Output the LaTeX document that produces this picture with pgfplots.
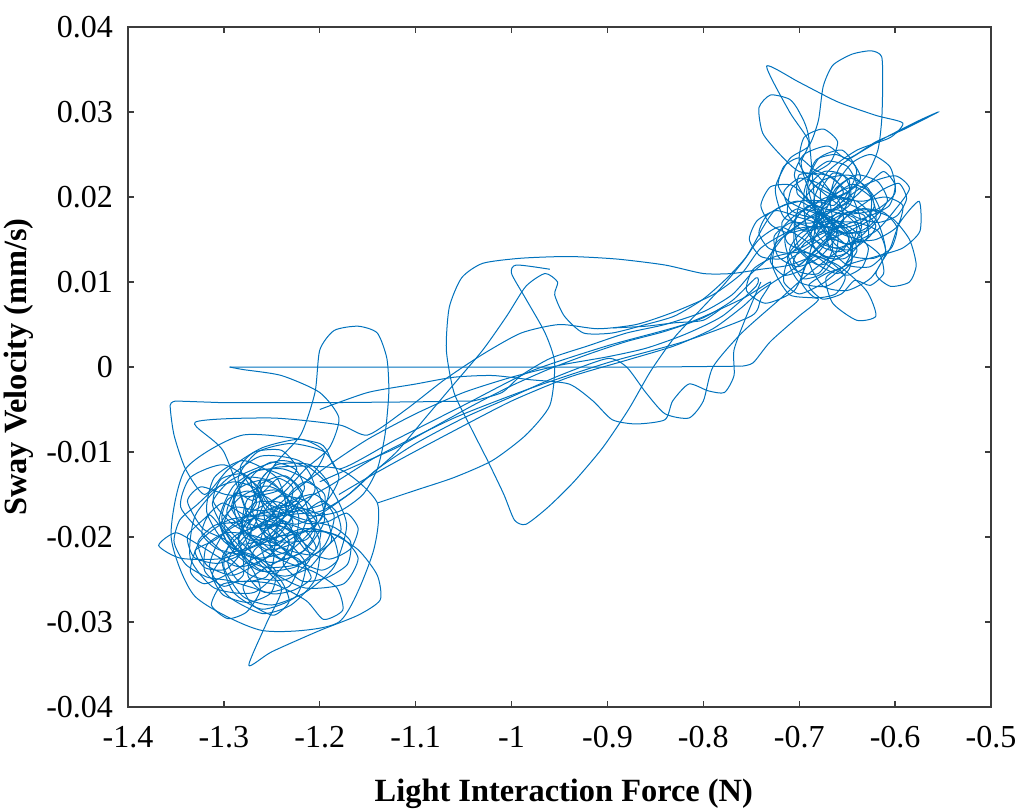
\documentclass[border=0pt]{standalone}
\usepackage{pgfplots}
\pgfplotsset{compat=1.18}
\usepackage{fontspec}
\setmainfont{Liberation Serif}
\definecolor{mblue}{RGB}{0,114,189}
\definecolor{axgray}{RGB}{60,60,60}
\pgfplotsset{trace/.style={mblue, line width=0.5pt, smooth, tension=0.4, no marks}}

\begin{document}
\begin{tikzpicture}
\begin{axis}[
    scale only axis,
    width=431.5pt, height=340pt,
    xmin=-1.4, xmax=-0.5, ymin=-0.04, ymax=0.04,
    scaled ticks=false,
    xtick={-1.4,-1.3,-1.2,-1.1,-1,-0.9,-0.8,-0.7,-0.6,-0.5},
    xticklabels={-1.4,-1.3,-1.2,-1.1,-1,-0.9,-0.8,-0.7,-0.6,-0.5},
    ytick={-0.04,-0.03,-0.02,-0.01,0,0.01,0.02,0.03,0.04},
    yticklabels={-0.04,-0.03,-0.02,-0.01,0,0.01,0.02,0.03,0.04},
    tick align=inside,
    major tick length=3pt,
    tick style={axgray, line width=0.7pt},
    axis line style={axgray, line width=0.8pt},
    ticklabel style={font=\fontsize{16}{19}\selectfont},
    xticklabel style={yshift=-6pt},
    yticklabel style={xshift=-4pt},
    xlabel={\textbf{Light Interaction Force (N)}},
    ylabel={\textbf{Sway Velocity (mm/s)}},
    label style={font=\fontsize{16.2}{19}\selectfont},
    xlabel style={at={(axis description cs:0.505,-0.127)}, anchor=center},
    ylabel style={at={(axis description cs:-0.127,0.5)}, anchor=center},
]
% left cluster, first pass
\addplot[trace] coordinates {(-1.262,-0.0185) (-1.235,-0.0160) (-1.205,-0.0150) (-1.185,-0.0175) (-1.195,-0.0210) (-1.225,-0.0235) (-1.262,-0.0240) (-1.292,-0.0215) (-1.305,-0.0180) (-1.290,-0.0140) (-1.260,-0.0120) (-1.228,-0.0135) (-1.212,-0.0170) (-1.225,-0.0205) (-1.255,-0.0215) (-1.280,-0.0190) (-1.275,-0.0155) (-1.245,-0.0145) (-1.222,-0.0175) (-1.232,-0.0225) (-1.268,-0.0265) (-1.310,-0.0260) (-1.335,-0.0225) (-1.330,-0.0175) (-1.300,-0.0135) (-1.262,-0.0105) (-1.222,-0.0110) (-1.190,-0.0140) (-1.172,-0.0185) (-1.185,-0.0235) (-1.215,-0.0265) (-1.250,-0.0280) (-1.280,-0.0270) (-1.300,-0.0235) (-1.290,-0.0200) (-1.255,-0.0185) (-1.225,-0.0195) (-1.210,-0.0225) (-1.235,-0.0250) (-1.272,-0.0245) (-1.318,-0.0200) (-1.345,-0.0165) (-1.335,-0.0130) (-1.300,-0.0115) (-1.265,-0.0140) (-1.245,-0.0180) (-1.250,-0.0220) (-1.285,-0.0235) (-1.325,-0.0210) (-1.350,-0.0195) (-1.368,-0.0210) (-1.345,-0.0225) (-1.300,-0.0225) (-1.255,-0.0205) (-1.215,-0.0190) (-1.178,-0.0200) (-1.160,-0.0225) (-1.175,-0.0255) (-1.215,-0.0260) (-1.250,-0.0240) (-1.262,-0.0205) (-1.245,-0.0165) (-1.210,-0.0130) (-1.195,-0.0100) (-1.220,-0.0085) (-1.260,-0.0095) (-1.295,-0.0120) (-1.320,-0.0150) (-1.340,-0.0120) (-1.352,-0.0080) (-1.356,-0.0045) (-1.350,-0.0040)};
\addplot[trace, sharp plot] coordinates {(-1.350,-0.0040) (-1.300,-0.0042) (-1.200,-0.0042) (-1.100,-0.0041) (-1.040,-0.0040)};
\addplot[trace] coordinates {(-1.040,-0.0040) (-1.010,-0.0030) (-0.990,-0.0010) (-0.960,0.0010) (-0.920,0.0025) (-0.880,0.0040) (-0.840,0.0050) (-0.800,0.0065) (-0.770,0.0085) (-0.750,0.0110) (-0.735,0.0125) (-0.715,0.0155) (-0.690,0.0175) (-0.660,0.0185) (-0.640,0.0165) (-0.650,0.0135) (-0.680,0.0120) (-0.705,0.0145) (-0.700,0.0190) (-0.675,0.0220) (-0.645,0.0225) (-0.625,0.0200) (-0.630,0.0160) (-0.660,0.0140) (-0.690,0.0155) (-0.695,0.0205) (-0.680,0.0245) (-0.655,0.0255) (-0.640,0.0230) (-0.655,0.0195) (-0.685,0.0170) (-0.715,0.0175) (-0.725,0.0210) (-0.710,0.0245) (-0.690,0.0260) (-0.680,0.0290) (-0.675,0.0330) (-0.665,0.0355) (-0.645,0.0368) (-0.625,0.0372) (-0.614,0.0365) (-0.613,0.0330) (-0.614,0.0290) (-0.618,0.0255) (-0.630,0.0225) (-0.650,0.0205) (-0.672,0.0195) (-0.690,0.0210) (-0.698,0.0240) (-0.690,0.0265) (-0.710,0.0300) (-0.734,0.0354) (-0.700,0.0335) (-0.660,0.0312) (-0.620,0.0296) (-0.592,0.0287) (-0.605,0.0270) (-0.640,0.0255) (-0.670,0.0230) (-0.685,0.0195) (-0.675,0.0160) (-0.650,0.0145) (-0.620,0.0160) (-0.600,0.0185) (-0.585,0.0210) (-0.600,0.0225) (-0.630,0.0215) (-0.660,0.0190) (-0.690,0.0160) (-0.712,0.0130) (-0.700,0.0100) (-0.672,0.0095) (-0.648,0.0115) (-0.645,0.0150) (-0.665,0.0175) (-0.695,0.0185) (-0.720,0.0160) (-0.728,0.0120) (-0.710,0.0085) (-0.680,0.0080) (-0.700,0.0060) (-0.730,0.0030) (-0.748,0.0005) (-0.760,0.0001)};
\addplot[trace, sharp plot] coordinates {(-0.760,0.0001) (-0.850,0.0000) (-0.950,0.0000) (-1.050,0.0000) (-1.150,0.0000) (-1.250,0.0000) (-1.294,0.0000)};
% left cluster, second pass
\addplot[trace] coordinates {(-1.294,0.0000) (-1.280,-0.0003) (-1.240,-0.0010) (-1.200,-0.0030) (-1.180,-0.0060) (-1.190,-0.0095) (-1.215,-0.0120) (-1.240,-0.0150) (-1.270,-0.0170) (-1.300,-0.0195) (-1.315,-0.0235) (-1.295,-0.0270) (-1.260,-0.0290) (-1.230,-0.0280) (-1.205,-0.0250) (-1.200,-0.0205) (-1.222,-0.0160) (-1.255,-0.0140) (-1.285,-0.0155) (-1.300,-0.0185) (-1.285,-0.0215) (-1.250,-0.0230) (-1.215,-0.0215) (-1.195,-0.0180) (-1.205,-0.0140) (-1.238,-0.0120) (-1.272,-0.0125) (-1.290,-0.0160) (-1.278,-0.0200) (-1.245,-0.0210) (-1.228,-0.0185) (-1.240,-0.0160) (-1.268,-0.0160) (-1.282,-0.0185) (-1.268,-0.0225) (-1.240,-0.0260) (-1.255,-0.0300) (-1.274,-0.0351) (-1.250,-0.0335) (-1.200,-0.0310) (-1.160,-0.0292) (-1.137,-0.0274) (-1.140,-0.0245) (-1.160,-0.0215) (-1.190,-0.0195) (-1.225,-0.0195) (-1.255,-0.0215) (-1.290,-0.0240) (-1.320,-0.0255) (-1.335,-0.0240) (-1.325,-0.0205) (-1.295,-0.0180) (-1.260,-0.0175) (-1.225,-0.0170) (-1.195,-0.0160) (-1.180,-0.0130) (-1.195,-0.0100) (-1.230,-0.0090) (-1.265,-0.0100) (-1.285,-0.0130) (-1.275,-0.0170) (-1.245,-0.0195) (-1.215,-0.0230) (-1.225,-0.0270) (-1.260,-0.0285) (-1.290,-0.0265) (-1.302,-0.0225) (-1.280,-0.0195) (-1.240,-0.0175) (-1.200,-0.0170) (-1.170,-0.0150) (-1.150,-0.0130) (-1.120,-0.0100) (-1.090,-0.0060) (-1.060,-0.0020) (-1.030,0.0020) (-1.005,0.0060) (-0.985,0.0095) (-0.965,0.0110) (-0.952,0.0100) (-0.955,0.0085) (-0.945,0.0060) (-0.925,0.0040) (-0.895,0.0040) (-0.860,0.0050) (-0.830,0.0060) (-0.800,0.0080) (-0.775,0.0105) (-0.755,0.0130) (-0.740,0.0160)};
% right cluster, second pass, top arc and the big lower loop
\addplot[trace] coordinates {(-0.740,0.0160) (-0.725,0.0185) (-0.700,0.0195) (-0.675,0.0175) (-0.665,0.0140) (-0.680,0.0110) (-0.705,0.0115) (-0.715,0.0150) (-0.700,0.0180) (-0.670,0.0200) (-0.640,0.0195) (-0.618,0.0170) (-0.610,0.0135) (-0.625,0.0105) (-0.650,0.0090) (-0.675,0.0095) (-0.690,0.0125) (-0.680,0.0160) (-0.655,0.0180) (-0.628,0.0185) (-0.603,0.0175) (-0.585,0.0150) (-0.578,0.0120) (-0.585,0.0100) (-0.605,0.0095) (-0.620,0.0110) (-0.605,0.0140) (-0.595,0.0170) (-0.575,0.0195) (-0.574,0.0160) (-0.592,0.0140) (-0.620,0.0130) (-0.650,0.0120) (-0.672,0.0105) (-0.665,0.0075) (-0.640,0.0055) (-0.620,0.0060) (-0.630,0.0090) (-0.660,0.0120) (-0.695,0.0135) (-0.725,0.0130) (-0.748,0.0115) (-0.755,0.0090) (-0.735,0.0075) (-0.705,0.0090) (-0.690,0.0130) (-0.680,0.0175) (-0.665,0.0210) (-0.645,0.0240) (-0.625,0.0250) (-0.605,0.0235) (-0.600,0.0205) (-0.620,0.0185) (-0.655,0.0180) (-0.690,0.0195) (-0.705,0.0225) (-0.695,0.0250) (-0.670,0.0260) (-0.650,0.0245) (-0.620,0.0265) (-0.590,0.0280) (-0.555,0.0300) (-0.575,0.0290) (-0.610,0.0270) (-0.640,0.0250) (-0.658,0.0235) (-0.668,0.0200) (-0.665,0.0165) (-0.680,0.0135) (-0.710,0.0120) (-0.740,0.0115) (-0.770,0.0110) (-0.800,0.0110) (-0.840,0.0120) (-0.890,0.0127) (-0.940,0.0130) (-0.990,0.0128) (-1.030,0.0122) (-1.052,0.0105) (-1.065,0.0070) (-1.068,0.0020) (-1.060,-0.0030) (-1.043,-0.0070) (-1.025,-0.0110) (-1.008,-0.0150) (-0.997,-0.0180) (-0.985,-0.0185) (-0.962,-0.0165) (-0.935,-0.0135) (-0.905,-0.0095) (-0.878,-0.0050) (-0.855,-0.0005) (-0.830,0.0035) (-0.805,0.0065) (-0.780,0.0095) (-0.758,0.0125) (-0.742,0.0150) (-0.720,0.0165) (-0.695,0.0150) (-0.672,0.0130) (-0.650,0.0135) (-0.635,0.0165) (-0.645,0.0200) (-0.670,0.0225) (-0.700,0.0230) (-0.720,0.0250) (-0.738,0.0275) (-0.742,0.0305) (-0.730,0.0320) (-0.710,0.0315) (-0.700,0.0300) (-0.690,0.0270) (-0.680,0.0160) (-0.662,0.0180) (-0.642,0.0175) (-0.635,0.0150) (-0.652,0.0128) (-0.675,0.0130) (-0.688,0.0150) (-0.682,0.0178) (-0.665,0.0200) (-0.645,0.0215) (-0.625,0.0205) (-0.615,0.0180) (-0.630,0.0160) (-0.655,0.0158) (-0.672,0.0175) (-0.678,0.0205) (-0.665,0.0228) (-0.648,0.0220) (-0.650,0.0195) (-0.668,0.0185) (-0.690,0.0190) (-0.705,0.0170) (-0.700,0.0140) (-0.680,0.0120) (-0.660,0.0110) (-0.645,0.0125) (-0.650,0.0155) (-0.672,0.0165) (-0.695,0.0160) (-0.712,0.0180) (-0.708,0.0210) (-0.690,0.0225) (-0.668,0.0240) (-0.660,0.0265) (-0.675,0.0280) (-0.695,0.0270) (-0.700,0.0240) (-0.685,0.0215) (-0.660,0.0200) (-0.635,0.0195) (-0.610,0.0200) (-0.592,0.0190) (-0.598,0.0165) (-0.620,0.0150) (-0.648,0.0145) (-0.690,0.0110) (-0.720,0.0080) (-0.760,0.0040) (-0.790,0.0000) (-0.800,-0.0040) (-0.815,-0.0060) (-0.840,-0.0055) (-0.860,-0.0030) (-0.880,0.0000) (-0.900,0.0010) (-0.950,-0.0010) (-1.000,-0.0035) (-1.050,-0.0060) (-1.100,-0.0090) (-1.140,-0.0120) (-1.170,-0.0150) (-1.195,-0.0170)};
% left cluster, third pass and bump
\addplot[trace] coordinates {(-1.195,-0.0170) (-1.225,-0.0185) (-1.255,-0.0170) (-1.265,-0.0140) (-1.245,-0.0115) (-1.210,-0.0115) (-1.190,-0.0140) (-1.200,-0.0180) (-1.230,-0.0215) (-1.268,-0.0225) (-1.300,-0.0205) (-1.318,-0.0170) (-1.310,-0.0130) (-1.280,-0.0110) (-1.245,-0.0130) (-1.235,-0.0170) (-1.255,-0.0200) (-1.285,-0.0205) (-1.250,-0.0120) (-1.220,-0.0080) (-1.205,-0.0030) (-1.200,0.0020) (-1.185,0.0043) (-1.160,0.0048) (-1.140,0.0040) (-1.130,0.0010) (-1.128,-0.0030) (-1.132,-0.0080) (-1.140,-0.0120) (-1.155,-0.0150) (-1.180,-0.0170) (-1.210,-0.0175) (-1.230,-0.0160) (-1.250,-0.0135) (-1.275,-0.0130) (-1.290,-0.0150) (-1.282,-0.0178) (-1.258,-0.0190) (-1.238,-0.0178) (-1.232,-0.0150) (-1.215,-0.0135) (-1.195,-0.0150) (-1.198,-0.0178) (-1.218,-0.0195) (-1.245,-0.0200) (-1.268,-0.0215) (-1.275,-0.0245) (-1.258,-0.0265) (-1.232,-0.0258) (-1.222,-0.0232) (-1.240,-0.0212) (-1.270,-0.0198) (-1.298,-0.0195) (-1.318,-0.0210) (-1.320,-0.0240) (-1.300,-0.0258) (-1.280,-0.0245) (-1.282,-0.0215) (-1.300,-0.0190) (-1.312,-0.0160) (-1.295,-0.0135) (-1.268,-0.0120) (-1.240,-0.0110) (-1.215,-0.0118) (-1.205,-0.0145) (-1.225,-0.0170) (-1.255,-0.0160) (-1.262,-0.0135) (-1.245,-0.0118) (-1.180,-0.0120) (-1.140,-0.0160) (-1.145,-0.0220) (-1.180,-0.0300) (-1.260,-0.0310) (-1.330,-0.0270) (-1.355,-0.0200) (-1.340,-0.0120) (-1.280,-0.0080) (-1.200,-0.0090) (-1.180,-0.0120) (-1.120,-0.0085) (-1.050,-0.0045) (-0.980,-0.0005) (-0.900,0.0025) (-0.820,0.0050) (-0.760,0.0080) (-0.730,0.0100) (-0.740,0.0080) (-0.750,0.0060) (-0.820,0.0030) (-0.900,0.0005) (-0.980,-0.0025) (-1.060,-0.0060) (-1.140,-0.0105) (-1.190,-0.0140) (-1.230,-0.0165) (-1.255,-0.0190)};
% left cluster, dense pass
\addplot[trace] coordinates {(-1.255,-0.0190) (-1.232,-0.0172) (-1.218,-0.0148) (-1.236,-0.0128) (-1.262,-0.0138) (-1.271,-0.0166) (-1.259,-0.0196) (-1.236,-0.0214) (-1.208,-0.0221) (-1.188,-0.0205) (-1.194,-0.0178) (-1.221,-0.0166) (-1.249,-0.0178) (-1.278,-0.0199) (-1.296,-0.0228) (-1.284,-0.0252) (-1.256,-0.0247) (-1.248,-0.0221) (-1.266,-0.0202) (-1.292,-0.0184) (-1.311,-0.0158) (-1.303,-0.0132) (-1.279,-0.0126) (-1.262,-0.0150) (-1.266,-0.0183) (-1.243,-0.0205) (-1.214,-0.0203) (-1.203,-0.0180) (-1.214,-0.0158) (-1.241,-0.0152) (-1.258,-0.0171) (-1.251,-0.0199) (-1.226,-0.0226) (-1.198,-0.0239) (-1.181,-0.0226) (-1.187,-0.0199) (-1.209,-0.0190) (-1.231,-0.0203) (-1.262,-0.0229) (-1.291,-0.0245) (-1.318,-0.0233) (-1.327,-0.0206) (-1.309,-0.0186) (-1.282,-0.0181) (-1.266,-0.0160) (-1.272,-0.0131) (-1.251,-0.0112) (-1.226,-0.0120) (-1.216,-0.0143) (-1.232,-0.0163) (-1.262,-0.0169) (-1.289,-0.0165) (-1.303,-0.0185) (-1.293,-0.0212) (-1.268,-0.0222) (-1.246,-0.0240) (-1.251,-0.0266) (-1.275,-0.0277) (-1.301,-0.0268) (-1.312,-0.0244) (-1.298,-0.0221) (-1.272,-0.0212) (-1.246,-0.0196) (-1.228,-0.0176) (-1.236,-0.0150) (-1.258,-0.0133) (-1.283,-0.0142) (-1.292,-0.0166) (-1.276,-0.0189) (-1.248,-0.0186) (-1.232,-0.0205) (-1.238,-0.0232) (-1.218,-0.0252) (-1.193,-0.0248) (-1.171,-0.0232) (-1.168,-0.0205) (-1.186,-0.0188) (-1.215,-0.0180) (-1.246,-0.0170) (-1.276,-0.0175) (-1.301,-0.0160) (-1.320,-0.0178) (-1.338,-0.0199) (-1.331,-0.0224) (-1.306,-0.0231) (-1.280,-0.0219) (-1.262,-0.0197) (-1.240,-0.0184) (-1.216,-0.0192) (-1.204,-0.0213) (-1.222,-0.0232) (-1.255,-0.0236) (-1.276,-0.0226) (-1.285,-0.0199) (-1.268,-0.0176) (-1.241,-0.0163) (-1.214,-0.0168) (-1.199,-0.0192) (-1.206,-0.0216) (-1.232,-0.0190) (-1.260,-0.0158) (-1.283,-0.0120) (-1.268,-0.0100) (-1.240,-0.0098) (-1.224,-0.0120) (-1.243,-0.0145) (-1.270,-0.0152) (-1.298,-0.0150) (-1.324,-0.0141) (-1.338,-0.0158) (-1.322,-0.0190) (-1.296,-0.0205) (-1.272,-0.0235) (-1.262,-0.0262) (-1.276,-0.0288) (-1.296,-0.0296) (-1.313,-0.0280) (-1.302,-0.0256) (-1.276,-0.0252) (-1.246,-0.0256) (-1.214,-0.0275) (-1.196,-0.0297) (-1.176,-0.0286) (-1.182,-0.0260) (-1.206,-0.0241) (-1.234,-0.0230) (-1.262,-0.0213) (-1.276,-0.0190) (-1.262,-0.0172) (-1.247,-0.0181) (-1.239,-0.0163) (-1.222,-0.0158) (-1.229,-0.0176) (-1.244,-0.0199) (-1.268,-0.0203) (-1.283,-0.0187) (-1.297,-0.0171) (-1.288,-0.0148) (-1.270,-0.0157) (-1.256,-0.0144) (-1.243,-0.0131) (-1.228,-0.0142) (-1.233,-0.0166) (-1.252,-0.0208) (-1.240,-0.0226) (-1.219,-0.0218) (-1.205,-0.0196) (-1.214,-0.0172) (-1.198,-0.0158) (-1.183,-0.0170) (-1.178,-0.0193) (-1.193,-0.0212) (-1.211,-0.0236) (-1.236,-0.0246) (-1.263,-0.0238) (-1.281,-0.0222) (-1.307,-0.0214) (-1.323,-0.0196) (-1.315,-0.0174) (-1.298,-0.0196) (-1.286,-0.0214) (-1.270,-0.0190) (-1.259,-0.0160) (-1.268,-0.0142) (-1.289,-0.0135) (-1.309,-0.0143) (-1.328,-0.0162) (-1.346,-0.0180) (-1.352,-0.0206) (-1.340,-0.0232) (-1.318,-0.0247) (-1.296,-0.0251) (-1.272,-0.0259) (-1.248,-0.0267) (-1.226,-0.0262) (-1.209,-0.0248) (-1.222,-0.0226) (-1.246,-0.0216) (-1.258,-0.0196) (-1.250,-0.0176) (-1.232,-0.0186) (-1.226,-0.0206) (-1.240,-0.0226) (-1.262,-0.0240) (-1.280,-0.0258) (-1.270,-0.0280) (-1.248,-0.0292) (-1.232,-0.0276) (-1.240,-0.0252) (-1.262,-0.0228) (-1.286,-0.0202) (-1.302,-0.0180) (-1.296,-0.0156) (-1.276,-0.0146) (-1.254,-0.0154) (-1.236,-0.0172) (-1.214,-0.0184) (-1.192,-0.0182) (-1.172,-0.0172) (-1.160,-0.0190) (-1.168,-0.0214) (-1.190,-0.0226) (-1.214,-0.0216) (-1.228,-0.0196) (-1.246,-0.0184) (-1.268,-0.0178) (-1.290,-0.0188) (-1.310,-0.0204) (-1.330,-0.0216) (-1.320,-0.0236) (-1.298,-0.0238) (-1.280,-0.0216) (-1.272,-0.0190) (-1.300,-0.0100) (-1.330,-0.0065) (-1.250,-0.0060) (-1.180,-0.0068) (-1.150,-0.0080) (-1.110,-0.0050) (-1.070,-0.0015) (-1.030,0.0015) (-0.990,0.0040) (-0.950,0.0050) (-0.910,0.0045) (-0.870,0.0050) (-0.830,0.0065) (-0.790,0.0085) (-0.760,0.0110) (-0.740,0.0140) (-0.710,0.0160) (-0.690,0.0165) (-0.668,0.0165)};
% right cluster, dense pass
\addplot[trace] coordinates {(-0.668,0.0165) (-0.650,0.0182) (-0.632,0.0178) (-0.628,0.0154) (-0.646,0.0138) (-0.668,0.0142) (-0.684,0.0160) (-0.680,0.0186) (-0.662,0.0204) (-0.642,0.0212) (-0.624,0.0198) (-0.620,0.0174) (-0.636,0.0160) (-0.660,0.0158) (-0.682,0.0172) (-0.702,0.0186) (-0.718,0.0170) (-0.712,0.0146) (-0.690,0.0134) (-0.668,0.0124) (-0.652,0.0106) (-0.662,0.0086) (-0.684,0.0082) (-0.698,0.0101) (-0.690,0.0128) (-0.670,0.0150) (-0.654,0.0172) (-0.660,0.0198) (-0.680,0.0216) (-0.700,0.0222) (-0.716,0.0206) (-0.708,0.0184) (-0.686,0.0176) (-0.664,0.0184) (-0.646,0.0196) (-0.628,0.0215) (-0.612,0.0230) (-0.600,0.0214) (-0.606,0.0190) (-0.626,0.0178) (-0.650,0.0168) (-0.674,0.0158) (-0.694,0.0146) (-0.706,0.0124) (-0.696,0.0104) (-0.676,0.0110) (-0.662,0.0132) (-0.660,0.0160) (-0.676,0.0182) (-0.692,0.0200) (-0.688,0.0226) (-0.670,0.0242) (-0.650,0.0236) (-0.640,0.0214) (-0.648,0.0190) (-0.668,0.0176) (-0.690,0.0164) (-0.712,0.0158) (-0.730,0.0168) (-0.740,0.0190) (-0.730,0.0212) (-0.708,0.0214) (-0.690,0.0196) (-0.676,0.0170) (-0.664,0.0146) (-0.644,0.0130) (-0.622,0.0128) (-0.604,0.0140) (-0.598,0.0164) (-0.612,0.0182) (-0.636,0.0186) (-0.656,0.0172) (-0.664,0.0148) (-0.680,0.0128) (-0.702,0.0118) (-0.722,0.0130) (-0.726,0.0154) (-0.708,0.0170) (-0.684,0.0164) (-0.662,0.0170) (-0.646,0.0158) (-0.640,0.0136) (-0.654,0.0118) (-0.676,0.0098) (-0.700,0.0086) (-0.716,0.0100) (-0.712,0.0124) (-0.692,0.0140) (-0.672,0.0156) (-0.656,0.0180) (-0.646,0.0204) (-0.654,0.0226) (-0.674,0.0230) (-0.690,0.0212) (-0.684,0.0188) (-0.664,0.0172) (-0.640,0.0170) (-0.618,0.0160) (-0.610,0.0136) (-0.626,0.0118) (-0.650,0.0120) (-0.668,0.0140) (-0.676,0.0166) (-0.700,0.0176) (-0.724,0.0184) (-0.744,0.0172) (-0.752,0.0150) (-0.740,0.0130) (-0.716,0.0128) (-0.694,0.0150) (-0.674,0.0180) (-0.662,0.0210) (-0.640,0.0226) (-0.618,0.0218) (-0.608,0.0196) (-0.622,0.0176) (-0.648,0.0160) (-0.672,0.0150) (-0.660,0.0166) (-0.648,0.0152) (-0.656,0.0136) (-0.674,0.0140) (-0.688,0.0156) (-0.694,0.0176) (-0.680,0.0194) (-0.664,0.0190) (-0.654,0.0206) (-0.664,0.0222) (-0.684,0.0232) (-0.700,0.0246) (-0.716,0.0236) (-0.722,0.0214) (-0.712,0.0196) (-0.696,0.0186) (-0.676,0.0178) (-0.656,0.0164) (-0.636,0.0170) (-0.622,0.0188) (-0.628,0.0210) (-0.646,0.0222) (-0.660,0.0210) (-0.670,0.0190) (-0.690,0.0176) (-0.708,0.0160) (-0.724,0.0146) (-0.730,0.0124) (-0.716,0.0108) (-0.698,0.0114) (-0.684,0.0130) (-0.668,0.0118) (-0.650,0.0108) (-0.634,0.0118) (-0.628,0.0140) (-0.640,0.0158) (-0.660,0.0172) (-0.682,0.0168) (-0.700,0.0156) (-0.710,0.0138) (-0.700,0.0120) (-0.680,0.0142) (-0.664,0.0160) (-0.648,0.0180) (-0.630,0.0194) (-0.614,0.0208) (-0.596,0.0216) (-0.588,0.0198) (-0.598,0.0178) (-0.618,0.0170) (-0.640,0.0176) (-0.658,0.0190) (-0.676,0.0206) (-0.690,0.0222) (-0.682,0.0244) (-0.662,0.0250) (-0.644,0.0240) (-0.636,0.0222) (-0.650,0.0206) (-0.672,0.0196) (-0.694,0.0196) (-0.716,0.0190) (-0.734,0.0178) (-0.742,0.0158) (-0.732,0.0140) (-0.712,0.0134) (-0.692,0.0144) (-0.676,0.0160) (-0.660,0.0152) (-0.646,0.0136) (-0.654,0.0118) (-0.672,0.0110) (-0.690,0.0096) (-0.676,0.0080) (-0.656,0.0086) (-0.642,0.0102) (-0.626,0.0096) (-0.612,0.0110) (-0.616,0.0132) (-0.634,0.0148) (-0.654,0.0156) (-0.670,0.0172) (-0.686,0.0190) (-0.702,0.0204) (-0.700,0.0226) (-0.682,0.0226) (-0.668,0.0208) (-0.652,0.0194) (-0.634,0.0184) (-0.620,0.0166) (-0.630,0.0150) (-0.650,0.0144) (-0.668,0.0150) (-0.700,0.0120) (-0.740,0.0090) (-0.760,0.0070) (-0.790,0.0045) (-0.830,0.0025) (-0.880,0.0008) (-0.940,-0.0012) (-1.000,-0.0040) (-1.060,-0.0075) (-1.110,-0.0105) (-1.150,-0.0130) (-1.180,-0.0150)};
% middle passes
\addplot[trace] coordinates {(-0.960,0.0115) (-0.995,0.0120) (-1.000,0.0110) (-0.985,0.0080) (-0.965,0.0040) (-0.955,0.0005) (-0.960,-0.0045) (-0.985,-0.0080) (-1.020,-0.0110) (-1.060,-0.0130) (-1.100,-0.0145) (-1.140,-0.0160)};
\addplot[trace] coordinates {(-1.200,-0.0050) (-1.150,-0.0030) (-1.100,-0.0020) (-1.060,-0.0012) (-1.020,-0.0010) (-0.980,-0.0015) (-0.940,-0.0020) (-0.915,-0.0040) (-0.895,-0.0062) (-0.870,-0.0067) (-0.840,-0.0062) (-0.832,-0.0040) (-0.815,-0.0020) (-0.795,-0.0028) (-0.778,-0.0030) (-0.768,-0.0010) (-0.768,0.0020) (-0.755,0.0060) (-0.740,0.0100)};
\addplot[trace] coordinates {(-0.894,0.0046) (-0.860,0.0048) (-0.830,0.0052) (-0.800,0.0055) (-0.780,0.0070)};
\addplot[trace] coordinates {(-1.200,-0.0135) (-1.160,-0.0115) (-1.120,-0.0095) (-1.080,-0.0070) (-1.040,-0.0045) (-1.000,-0.0022) (-0.960,-0.0002) (-0.920,0.0015) (-0.880,0.0030) (-0.840,0.0042) (-0.800,0.0058) (-0.770,0.0078) (-0.745,0.0105) (-0.745,0.0095) (-0.780,0.0060) (-0.820,0.0038) (-0.860,0.0022) (-0.900,0.0012) (-0.950,0.0002) (-1.000,-0.0012) (-1.050,-0.0030) (-1.100,-0.0055) (-1.150,-0.0085) (-1.190,-0.0115) (-1.220,-0.0140)};
\end{axis}
\pgfresetboundingbox
\path[use as bounding box] (-64pt,-51pt) rectangle (444pt,353.5pt);
\end{tikzpicture}
\end{document}
